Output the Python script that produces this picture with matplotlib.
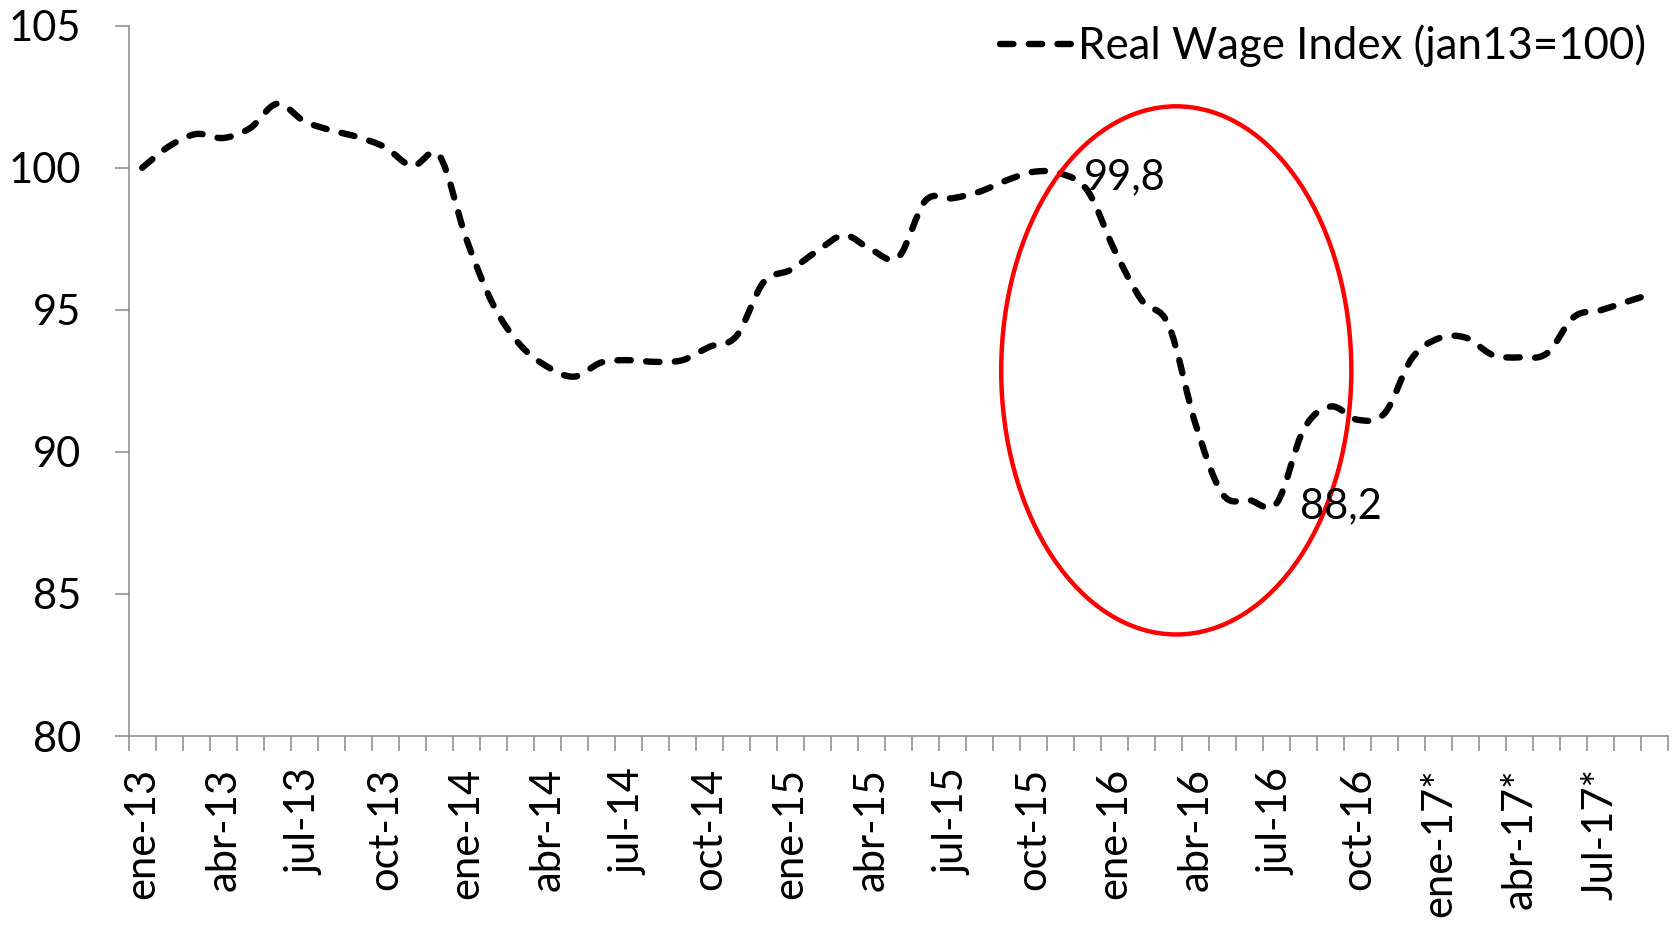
import matplotlib
matplotlib.use("Agg")
import matplotlib.pyplot as plt
import numpy as np
from matplotlib.path import Path
from matplotlib.patches import PathPatch, Ellipse
from matplotlib.lines import Line2D

# monthly real wage index, ene-13 .. sep-17 (jan13 = 100)
wage_index = [
    100.0, 100.76, 101.19, 101.05, 101.40, 102.26, 101.64, 101.32, 101.08, 100.72, 100.06, 100.43,
    97.5, 95.17, 93.76, 93.0, 92.65, 93.15, 93.23, 93.17, 93.23, 93.7, 94.08, 95.97,
    96.41, 97.08, 97.63, 97.11, 96.86, 98.85, 98.93, 99.16, 99.56, 99.86, 99.8, 99.19,
    97.09, 95.34, 94.46, 90.96, 88.51, 88.3, 88.2, 90.8, 91.6, 91.13, 91.37, 93.29,
    94.0, 94.02, 93.41, 93.33, 93.47, 94.75, 94.99, 95.30, 95.60,
]
tick_labels = ["ene-13", "abr-13", "jul-13", "oct-13", "ene-14", "abr-14", "jul-14",
               "oct-14", "ene-15", "abr-15", "jul-15", "oct-15", "ene-16", "abr-16",
               "jul-16", "oct-16", "ene-17*", "abr-17*", "Jul-17*"]
# points with data labels: (month index, text)
marked = [(34, "99,8"), (42, "88,2")]
series_name = "Real Wage Index (jan13=100)"

GRAY = "#898989"
DASH = (0, (2.1, 2.4))
LW = 4.6
FONT = "Lato"


def smooth_path(x, y):
    """Bezier path through the points, like Excel's smoothed line."""
    x = np.asarray(x, float)
    y = np.asarray(y, float)
    xp = np.concatenate([[x[0]], x, [x[-1]]])
    yp = np.concatenate([[y[0]], y, [y[-1]]])
    verts = [(x[0], y[0])]
    codes = [Path.MOVETO]
    for i in range(len(x) - 1):
        c1 = (x[i] + (xp[i + 2] - xp[i]) / 6, y[i] + (yp[i + 2] - yp[i]) / 6)
        c2 = (x[i + 1] - (xp[i + 3] - xp[i + 1]) / 6,
              y[i + 1] - (yp[i + 3] - yp[i + 1]) / 6)
        verts += [c1, c2, (x[i + 1], y[i + 1])]
        codes += [Path.CURVE4] * 3
    return Path(verts, codes)


fig = plt.figure(figsize=(16.75, 9.27), dpi=100)
ax = fig.add_axes([0.0768, 0.206, 0.9193, 0.7662])

xs = np.arange(len(wage_index))
line = PathPatch(smooth_path(xs, wage_index), fill=False, edgecolor="black",
                 lw=LW, linestyle=DASH, capstyle="round")
ax.add_patch(line)

ax.set_xlim(-0.5, len(wage_index) - 0.5)
ax.set_ylim(80, 105)

# data labels
for idx, txt in marked:
    ax.annotate(txt, (idx, wage_index[idx]), xytext=(17, -2.5), textcoords="offset points",
                ha="left", va="center", fontsize=30, family=FONT)

# highlight ellipse around the 2016 drop
ax.add_patch(Ellipse((38.28, 92.87), 12.96, 18.59, fill=False,
                     edgecolor="#ff0000", lw=3.2))

# axes styling
for side in ["top", "right"]:
    ax.spines[side].set_visible(False)
for side in ["left", "bottom"]:
    ax.spines[side].set_color(GRAY)
    ax.spines[side].set_linewidth(1.1)

ax.set_xticks(np.arange(-0.5, len(wage_index), 1))
ax.set_xticklabels([])
ax.set_xticks(np.arange(0, len(wage_index), 3), minor=True)
ax.set_xticklabels(tick_labels, minor=True, rotation=90, fontsize=30, family=FONT)
ax.tick_params(axis="x", which="major", length=10.8, width=1.1, color=GRAY)
ax.tick_params(axis="x", which="minor", length=0, pad=23)

ax.set_yticks([80, 85, 90, 95, 100, 105])
ax.tick_params(axis="y", length=10, width=1.1, color=GRAY, pad=24, labelsize=30)
for lab in ax.get_yticklabels():
    lab.set_family(FONT)

proxy = Line2D([], [], color="black", lw=LW, linestyle=DASH, dash_capstyle="round")
ax.legend([proxy], [series_name], loc="center right",
          bbox_to_anchor=(1646 / 1675, 1 - 46 / 927), bbox_transform=fig.transFigure,
          frameon=False, handlelength=1.7, handletextpad=0.08, borderpad=0,
          borderaxespad=0, prop={"family": FONT, "size": 31.5})

fig.savefig("out.png", dpi=100)
